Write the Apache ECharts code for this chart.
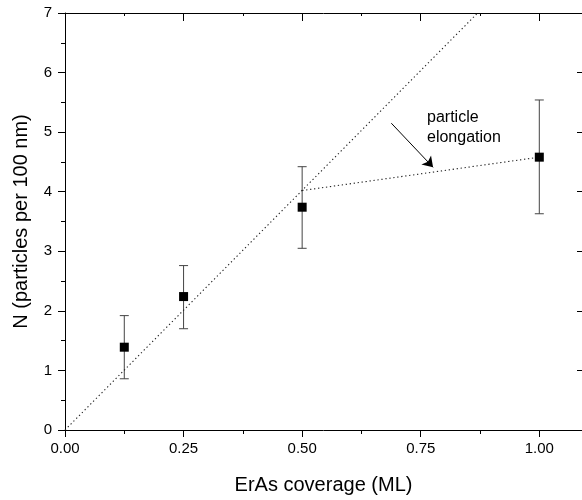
<!DOCTYPE html>
<html>
<head>
<meta charset="utf-8">
<script src="https://cdn.jsdelivr.net/npm/echarts@6/dist/echarts.min.js"></script>
<style>html,body{margin:0;padding:0;background:#fff}#c{width:582px;height:500px}</style>
</head>
<body>
<div id="c"></div>
<script>
// Data
var coverage = [0.125, 0.25, 0.5, 1.0];
var density = [1.39, 2.24, 3.74, 4.58];
var errLow = [0.86, 1.70, 3.05, 3.63];
var errHigh = [1.92, 2.76, 4.42, 5.54];
var fitLine1 = [[0, 0], [0.87, 7]];
var fitLine2 = [[0.5, 4.02], [1.0, 4.58]];
var arrowFrom = [0.688, 5.15];
var arrowTo = [0.776, 4.41];
var xTicks = ['0.00', '0.25', '0.50', '0.75', '1.00'];
var annotation = ['particle', 'elongation'];

var FONT = '"Liberation Sans", Arial, sans-serif';
var chart = echarts.init(document.getElementById('c'));

var points = coverage.map(function (x, i) { return [x, density[i]]; });
var errData = coverage.map(function (x, i) { return [x, errLow[i], errHigh[i]]; });

function xAx(pos, interval, len, inside, showLine, showLabel, extra) {
  var a = {
    type: 'value', position: pos, min: 0, max: 1.09, interval: interval,
    splitLine: { show: false },
    axisLine: { show: showLine, onZero: false, lineStyle: { color: '#000', width: 1 } },
    axisTick: { show: true, inside: inside, length: len, lineStyle: { color: '#000', width: 1 } },
    axisLabel: { show: showLabel }
  };
  return Object.assign(a, extra || {});
}
function yAx(pos, interval, len, inside, showLine, showLabel, extra) {
  var a = {
    type: 'value', position: pos, min: 0, max: 7, interval: interval,
    splitLine: { show: false },
    axisLine: { show: showLine, onZero: false, lineStyle: { color: '#000', width: 1 } },
    axisTick: { show: true, inside: inside, length: len, lineStyle: { color: '#000', width: 1 } },
    axisLabel: { show: showLabel }
  };
  return Object.assign(a, extra || {});
}

var dotted = { type: [1.3, 2.7], color: '#222', width: 1.1 };

var option = {
  animation: false,
  backgroundColor: '#fff',
  grid: { left: 65, top: 13, right: -1, bottom: 69 },
  xAxis: [
    xAx('bottom', 0.25, 7, false, true, true, {
      name: 'ErAs coverage (ML)', nameLocation: 'middle', nameGap: 45,
      nameTextStyle: { fontFamily: FONT, fontSize: 20, color: '#000' },
      axisLabel: {
        show: true, fontFamily: FONT, fontSize: 15, color: '#000', margin: 11, showMaxLabel: false,
        formatter: function (v) { var i = Math.round(v / 0.25); return (Math.abs(v - i * 0.25) < 1e-6 && xTicks[i]) ? xTicks[i] : ''; }
      }
    }),
    xAx('bottom', 0.125, 4, false, false, false),
    xAx('top', 0.25, 8, true, true, false),
    xAx('top', 0.125, 3, true, false, false)
  ],
  yAxis: [
    yAx('left', 1, 7, false, true, true, {
      name: 'N (particles per 100 nm)', nameLocation: 'middle', nameGap: 34, nameRotate: 90,
      nameTextStyle: { fontFamily: FONT, fontSize: 20, color: '#000' },
      axisLabel: { show: true, fontFamily: FONT, fontSize: 15, color: '#000', margin: 13 }
    }),
    yAx('left', 0.5, 4, false, false, false),
    yAx('right', 1, 5, true, false, false)
  ],
  series: [
    {
      type: 'line', data: fitLine1, xAxisIndex: 0, yAxisIndex: 0, symbol: 'none', silent: true,
      lineStyle: dotted
    },
    {
      type: 'line', data: fitLine2, xAxisIndex: 0, yAxisIndex: 0, symbol: 'none', silent: true,
      lineStyle: dotted,
      markLine: {
        silent: true, symbol: ['none', 'arrow'], symbolSize: 10,
        label: { show: false },
        lineStyle: { type: 'solid', color: '#000', width: 1 },
        emphasis: { disabled: true },
        data: [[{ coord: arrowFrom }, { coord: arrowTo }]]
      }
    },
    {
      type: 'custom', xAxisIndex: 0, yAxisIndex: 0, data: errData, silent: true,
      renderItem: function (params, api) {
        var x = api.value(0);
        var lo = api.coord([x, api.value(1)]);
        var hi = api.coord([x, api.value(2)]);
        var hw = 4.5;
        var st = { stroke: '#444', lineWidth: 1, fill: null };
        return {
          type: 'group',
          children: [
            { type: 'line', shape: { x1: lo[0], y1: lo[1], x2: hi[0], y2: hi[1] }, style: st },
            { type: 'line', shape: { x1: lo[0] - hw, y1: lo[1], x2: lo[0] + hw, y2: lo[1] }, style: st },
            { type: 'line', shape: { x1: hi[0] - hw, y1: hi[1], x2: hi[0] + hw, y2: hi[1] }, style: st }
          ]
        };
      },
      z: 3
    },
    {
      type: 'scatter', data: points, xAxisIndex: 0, yAxisIndex: 0, symbol: 'rect', symbolSize: 9,
      itemStyle: { color: '#000', opacity: 1 }, z: 5
    }
  ],
  graphic: [
    {
      type: 'text', left: 427, top: 108,
      style: { text: annotation.join('\n'), fontFamily: FONT, fontSize: 16, lineHeight: 20, fill: '#000' }
    }
  ]
};
chart.setOption(option);
</script>
</body>
</html>
